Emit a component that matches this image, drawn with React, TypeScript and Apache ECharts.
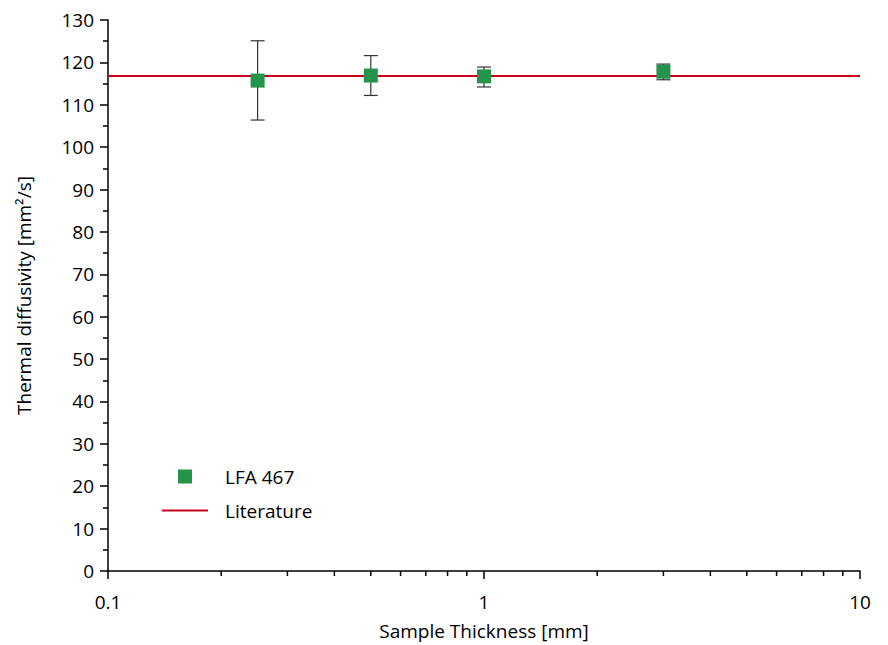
import React, { useEffect, useRef } from "react";
import * as echarts from "echarts";

const thickness = [0.25, 0.5, 1, 3];
const diffusivity = [115.7, 116.9, 116.7, 117.8];
const errLow = [106.4, 112.2, 114.2, 115.9];
const errHigh = [125.1, 121.6, 118.9, 119.6];
const literatureValue = 116.8;
const xRange = [0.1, 10];
const xMinorTicks = [0.2, 0.3, 0.4, 0.5, 0.6, 0.7, 0.8, 0.9, 2, 3, 4, 5, 6, 7, 8, 9];

const FONT = "Open Sans";
const FS = 19;

export default function App() {
  const ref = useRef<HTMLDivElement>(null);
  useEffect(() => {
    const chart = echarts.init(ref.current!, null, { renderer: "svg" });
    const option: any = {
      animation: false,
      textStyle: { fontFamily: FONT, color: "#000" },
      grid: { left: 108, right: 28, top: 20, bottom: 73, containLabel: false },
      legend: {
        orient: "vertical",
        left: 157,
        top: 462,
        itemWidth: 46,
        itemHeight: 14,
        itemGap: 15,
        textStyle: { fontFamily: FONT, fontSize: FS, color: "#000", padding: [0, 0, 0, 12] },
        data: [
          { name: "LFA 467", icon: "path://M0,0H10V10H0Z", itemStyle: { color: "#23944a", opacity: 1 } },
          { name: "Literature", icon: "path://M0,0H46V2H0Z", itemStyle: { color: "#c8001e" } },
        ],
      },
      xAxis: {
        type: "log",
        logBase: 10,
        min: xRange[0],
        max: xRange[1],
        name: "Sample Thickness [mm]",
        nameLocation: "middle",
        nameGap: 50,
        nameTextStyle: { fontFamily: FONT, fontSize: FS, color: "#000" },
        axisLine: { lineStyle: { color: "#000", width: 1.5 } },
        axisTick: { show: true, length: 8, lineStyle: { color: "#000", width: 1.5 } },
        axisLabel: {
          fontFamily: FONT,
          fontSize: FS,
          color: "#000",
          margin: 21,
          formatter: (v: number) => String(Number(v.toPrecision(3))),
        },
        splitLine: { show: false },
        minorTick: { show: false },
      },
      yAxis: {
        type: "value",
        min: 0,
        max: 130,
        interval: 10,
        name: "Thermal diffusivity [mm²/s]",
        nameLocation: "middle",
        nameGap: 75,
        nameTextStyle: { fontFamily: FONT, fontSize: FS, color: "#000" },
        axisLine: { show: true, lineStyle: { color: "#000", width: 1.5 } },
        axisTick: { show: true, length: 8, lineStyle: { color: "#000", width: 1.5 } },
        minorTick: { show: true, splitNumber: 2, length: 5, lineStyle: { color: "#000", width: 1.5 } },
        axisLabel: { fontFamily: FONT, fontSize: FS, color: "#000", margin: 14 },
        splitLine: { show: false },
      },
      series: [
        {
          name: "xMinorTicks",
          type: "custom",
          silent: true,
          clip: false,
          data: xMinorTicks.map((v) => [v, 0]),
          renderItem: (params: any, api: any) => {
            const p = api.coord([api.value(0), 0]);
            return {
              type: "line",
              shape: { x1: p[0], y1: p[1], x2: p[0], y2: p[1] + 5 },
              style: { stroke: "#000", lineWidth: 1.5 },
            };
          },
        },
        {
          name: "Literature",
          type: "line",
          symbol: "none",
          data: xRange.map((x) => [x, literatureValue]),
          lineStyle: { color: "#c8001e", width: 2 },
          itemStyle: { color: "#c8001e" },
          z: 3,
        },
        {
          name: "errorbars",
          type: "custom",
          silent: true,
          data: thickness.map((x, i) => [x, errLow[i], errHigh[i]]),
          renderItem: (params: any, api: any) => {
            const lo = api.coord([api.value(0), api.value(1)]);
            const hi = api.coord([api.value(0), api.value(2)]);
            const half = 7;
            const style = { stroke: "#333", lineWidth: 1.2 };
            return {
              type: "group",
              children: [
                { type: "line", shape: { x1: lo[0], y1: lo[1], x2: hi[0], y2: hi[1] }, style },
                { type: "line", shape: { x1: lo[0] - half, y1: lo[1], x2: lo[0] + half, y2: lo[1] }, style },
                { type: "line", shape: { x1: hi[0] - half, y1: hi[1], x2: hi[0] + half, y2: hi[1] }, style },
              ],
            };
          },
          z: 2,
        },
        {
          name: "LFA 467",
          type: "scatter",
          symbol: "rect",
          symbolSize: 14,
          data: thickness.map((x, i) => [x, diffusivity[i]]),
          itemStyle: { color: "#23944a", opacity: 1 },
          z: 4,
        },
      ],
    };
    chart.setOption(option);
    return () => chart.dispose();
  }, []);
  return (
    <div
      ref={ref}
      style={{ position: "fixed", left: 0, top: 0, width: 888, height: 645, background: "#fff" }}
    />
  );
}
